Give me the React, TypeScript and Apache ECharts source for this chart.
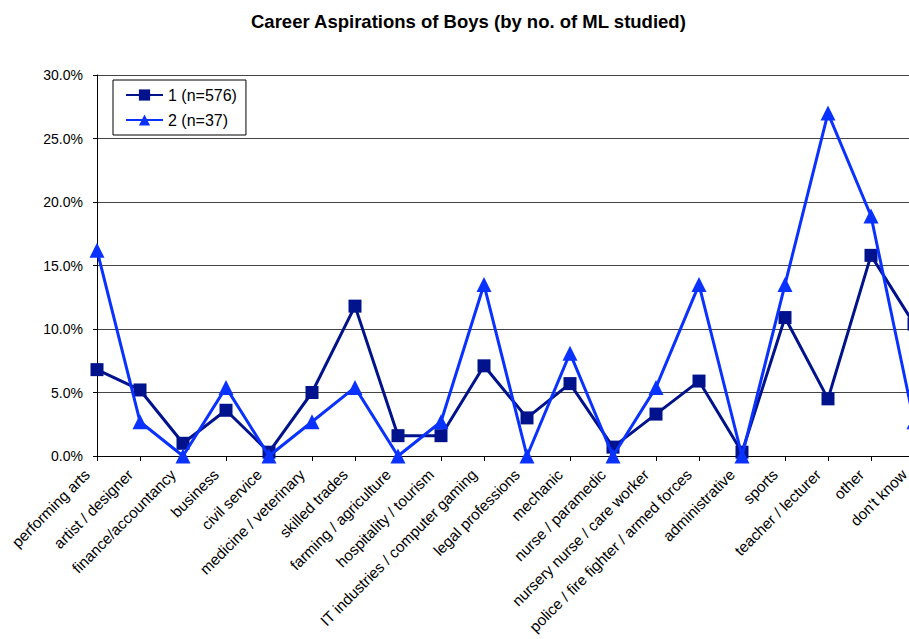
import React, { useEffect, useRef } from "react";
import * as echarts from "echarts";

const categories = [
  "performing arts",
  "artist / designer",
  "finance/accountancy",
  "business",
  "civil service",
  "medicine / veterinary",
  "skilled trades",
  "farming / agriculture",
  "hospitality / tourism",
  "IT industries / computer gaming",
  "legal professions",
  "mechanic",
  "nurse / paramedic",
  "nursery nurse / care worker",
  "police / fire fighter / armed forces",
  "administrative",
  "sports",
  "teacher / lecturer",
  "other",
  "don't know",
];

const series1Name = "1 (n=576)";
const series1 = [6.8, 5.2, 1.0, 3.6, 0.3, 5.0, 11.8, 1.6, 1.6, 7.1, 3.0, 5.7, 0.7, 3.3, 5.9, 0.3, 10.9, 4.5, 15.8, 10.4];

const series2Name = "2 (n=37)";
const series2 = [16.2, 2.7, 0, 5.4, 0, 2.7, 5.4, 0, 2.7, 13.5, 0, 8.1, 0, 5.4, 13.5, 0, 13.5, 27.0, 18.9, 2.7];

const yTicks = { min: 0, max: 30, interval: 5 };

const FONT = "Arial, 'Liberation Sans', sans-serif";

export default function App() {
  const ref = useRef<HTMLDivElement>(null);

  useEffect(() => {
    if (!ref.current) return;
    const chart = echarts.init(ref.current, undefined, { renderer: "svg" });
    chart.setOption({
      animation: false,
      backgroundColor: "#ffffff",
      title: {
        text: "Career Aspirations of Boys (by no. of ML studied)",
        left: 246,
        top: 7,
        textStyle: { fontFamily: FONT, fontSize: 18.5, fontWeight: "bold", color: "#000" },
      },
      legend: {
        orient: "vertical",
        left: 113,
        top: 80,
        padding: [7, 9, 7, 12],
        itemGap: 9,
        itemWidth: 37,
        itemHeight: 14,
        borderColor: "#000",
        borderWidth: 1,
        backgroundColor: "#fff",
        textStyle: { fontFamily: FONT, fontSize: 16, color: "#000" },
        data: [series1Name, series2Name],
      },
      grid: { left: 97, top: 75, right: 16, bottom: 183, outerBoundsMode: "none", containLabel: false },
      xAxis: {
        type: "category",
        data: categories,
        boundaryGap: false,
        axisLine: { lineStyle: { color: "#000", width: 1 } },
        axisTick: { show: true, length: 5, lineStyle: { color: "#000" } },
        axisLabel: {
          rotate: 45,
          interval: 0,
          margin: 6,
          padding: [0, 14, 0, 0],
          fontFamily: FONT,
          fontSize: 15.3,
          color: "#000",
        },
        splitLine: { show: false },
      },
      yAxis: {
        type: "value",
        min: yTicks.min,
        max: yTicks.max,
        interval: yTicks.interval,
        axisLine: { show: true, lineStyle: { color: "#000", width: 1 } },
        axisTick: { show: true, length: 4, lineStyle: { color: "#000" } },
        axisLabel: {
          margin: 14,
          fontFamily: FONT,
          fontSize: 14,
          color: "#000",
          formatter: (v: number) => v.toFixed(1) + "%",
        },
        splitLine: { show: true, lineStyle: { color: "#444", width: 1 } },
      },
      series: [
        {
          name: series1Name,
          type: "line",
          data: series1,
          symbol: "rect",
          symbolSize: 13,
          itemStyle: { color: "#00128c" },
          lineStyle: { color: "#00128c", width: 3 },
          z: 3,
        },
        {
          name: series2Name,
          type: "line",
          data: series2,
          symbol: "triangle",
          symbolSize: 15,
          itemStyle: { color: "#0a32ff" },
          lineStyle: { color: "#0a32ff", width: 3 },
          z: 4,
        },
      ],
    });
    return () => chart.dispose();
  }, []);

  return (
    <div
      style={{
        position: "fixed",
        left: 0,
        top: 0,
        width: 909,
        height: 639,
        overflow: "hidden",
        background: "#fff",
      }}
    >
      <div ref={ref} style={{ width: 930, height: 639 }} />
    </div>
  );
}
